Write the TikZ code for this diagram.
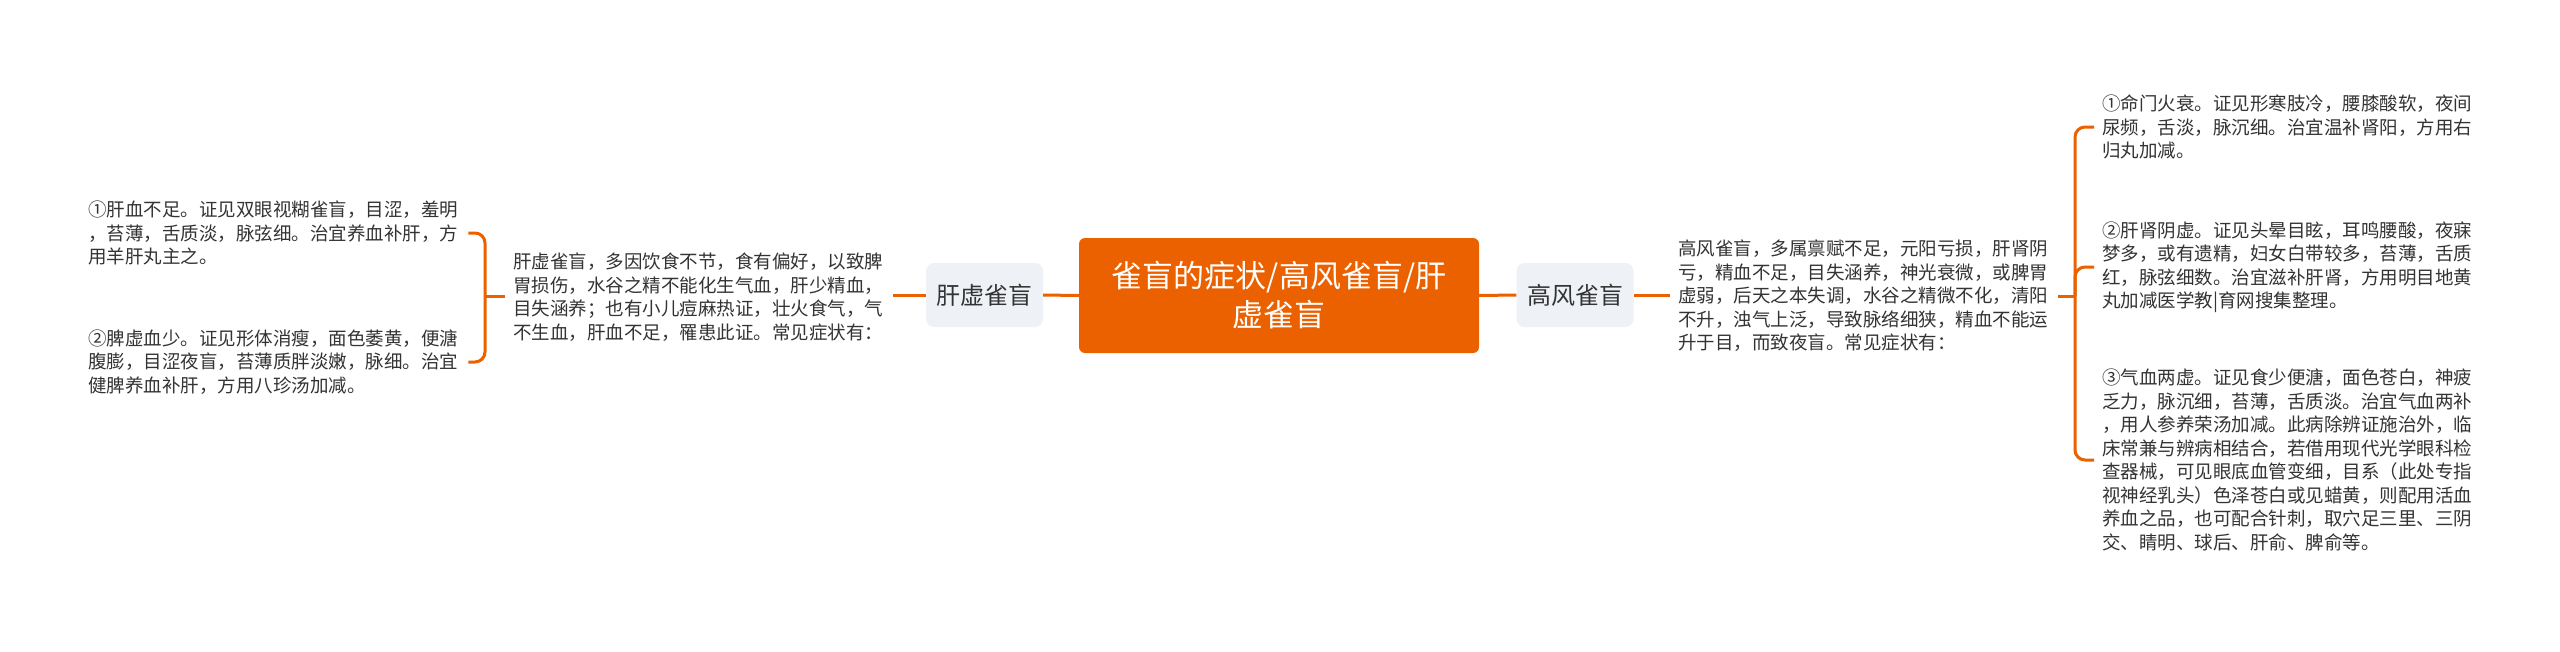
\documentclass[tikz,border=0pt]{standalone}
\usepackage{fontspec}
\newfontfamily\cjk{Noto Sans CJK SC}
\definecolor{brand}{RGB}{235,97,0}
\definecolor{txt}{RGB}{51,51,51}
\definecolor{subfill}{RGB}{238,241,245}
\begin{document}
\begin{tikzpicture}[x=1pt,y=-1pt,
  conn/.style={draw=brand,line width=3pt},
  bracket/.style={conn,rounded corners=10pt},
  para/.style={text=txt,align=left,text width=372pt,inner xsep=8pt,inner ysep=0pt,
    font=\cjk\fontsize{18.5pt}{23.5pt}\selectfont},
  sub/.style={fill=subfill,rounded corners=8pt,minimum width=117pt,minimum height=64pt,
    text=txt,inner sep=0pt,font=\cjk\fontsize{24pt}{30pt}\selectfont},
  root/.style={fill=brand,rounded corners=6pt,minimum width=400pt,minimum height=115pt,
    text=white,align=center,inner sep=0pt,font=\cjk\fontsize{31pt}{39pt}\selectfont}]
\fill[white] (0,0) rectangle (2560,651);
\useasboundingbox (0,0) rectangle (2560,651);

\node[root] (c) at (1279,295.5) {雀盲的症状/高风雀盲/肝\\虚雀盲};
\node[sub] (l) at (984.5,295) {肝虚雀盲};
\node[sub] (r) at (1575,295) {高风雀盲};

\node[para,anchor=west] (lt) at (505,297) {肝虚雀盲，多因饮食不节，食有偏好，以致脾\\胃损伤，水谷之精不能化生气血，肝少精血，\\目失涵养；也有小儿痘麻热证，壮火食气，气\\不生血，肝血不足，罹患此证。常见症状有：};
\node[para,anchor=west] (rt) at (1670,296) {高风雀盲，多属禀赋不足，元阳亏损，肝肾阴\\亏，精血不足，目失涵养，神光衰微，或脾胃\\虚弱，后天之本失调，水谷之精微不化，清阳\\不升，浊气上泛，导致脉络细狭，精血不能运\\升于目，而致夜盲。常见症状有：};

\node[para,anchor=west] (l1) at (80,233) {①肝血不足。证见双眼视糊雀盲，目涩，羞明\\，苔薄，舌质淡，脉弦细。治宜养血补肝，方\\用羊肝丸主之。};
\node[para,anchor=west] (l2) at (80,362) {②脾虚血少。证见形体消瘦，面色萎黄，便溏\\腹膨，目涩夜盲，苔薄质胖淡嫩，脉细。治宜\\健脾养血补肝，方用八珍汤加减。};

\node[para,anchor=west] (r1) at (2094,127) {①命门火衰。证见形寒肢冷，腰膝酸软，夜间\\尿频，舌淡，脉沉细。治宜温补肾阳，方用右\\归丸加减。};
\node[para,anchor=west] (r2) at (2094,267) {②肝肾阴虚。证见头晕目眩，耳鸣腰酸，夜寐\\梦多，或有遗精，妇女白带较多，苔薄，舌质\\红，脉弦细数。治宜滋补肝肾，方用明目地黄\\丸加减医学教|育网搜集整理。};
\node[para,anchor=west] (r3) at (2094,460) {③气血两虚。证见食少便溏，面色苍白，神疲\\乏力，脉沉细，苔薄，舌质淡。治宜气血两补\\，用人参养荣汤加减。此病除辨证施治外，临\\床常兼与辨病相结合，若借用现代光学眼科检\\查器械，可见眼底血管变细，目系（此处专指\\视神经乳头）色泽苍白或见蜡黄，则配用活血\\养血之品，也可配合针刺，取穴足三里、三阴\\交、睛明、球后、肝俞、脾俞等。};

\coordinate (lb) at (485,296);
\coordinate (rb) at (2075,296);

\draw[conn] (c.west) -- (l.east);
\draw[conn] (c.east) -- (r.west);
\draw[conn] (l.west) -- (lt.east |- l.west);
\draw[conn] (r.east) -- (rt.west |- r.east);
\draw[conn] (lt.west |- lb) -- (lb);
\draw[conn] (rt.east |- rb) -- (rb);
\draw[bracket] (lb) |- (l1.east);
\draw[bracket] (lb) |- (l2.east);
\draw[bracket] (rb) |- (r1.west);
\draw[bracket] (rb) |- (r2.west);
\draw[bracket] (rb) |- (r3.west);
\end{tikzpicture}
\end{document}
